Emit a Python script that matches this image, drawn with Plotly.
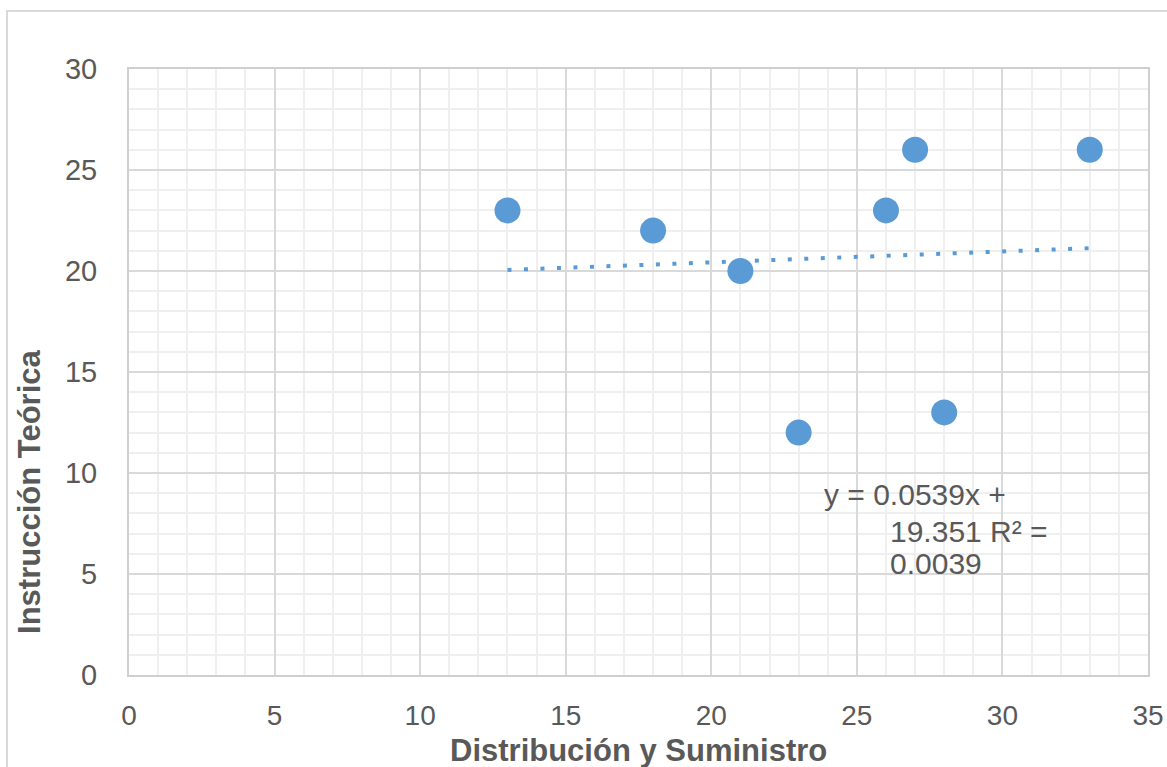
import plotly.graph_objects as go

# Datos
distribucion = [13, 18, 21, 23, 26, 27, 28, 33]
instruccion = [23, 22, 20, 12, 23, 26, 13, 26]

# Línea de tendencia (ecuación mostrada en el gráfico)
pendiente = 0.0539
intercepto = 19.351
r2 = 0.0039

x_tend = [min(distribucion), max(distribucion)]
y_tend = [pendiente * x + intercepto for x in x_tend]

color_azul = '#5B9BD5'
color_texto = '#595959'
fuente = 'Liberation Sans, Arial, sans-serif'

fig = go.Figure()

fig.add_trace(go.Scatter(
    x=x_tend, y=y_tend,
    mode='lines',
    line={'color': color_azul, 'width': 4, 'dash': '4px,12.5px'},
    hoverinfo='skip',
))

fig.add_trace(go.Scatter(
    x=distribucion, y=instruccion,
    mode='markers',
    marker={'color': color_azul, 'size': 26, 'line': {'width': 0}},
))

fig.update_layout(
    width=1167, height=767,
    plot_bgcolor='white',
    paper_bgcolor='white',
    margin={'l': 129, 'r': 19, 't': 69, 'b': 92},
    showlegend=False,
    font={'family': fuente, 'color': color_texto, 'size': 28},

    xaxis={
        'range': [0, 35],
        'dtick': 5,
        'automargin': False,
        'showgrid': True,
        'gridcolor': '#d9d9d9',
        'gridwidth': 1.5,
        'minor': {'dtick': 1, 'showgrid': True, 'gridcolor': '#efefef', 'gridwidth': 1.5},
        'showline': True, 'linecolor': '#cfcfcf', 'linewidth': 2, 'mirror': True,
        'zeroline': False,
        'ticks': 'outside', 'ticklen': 14, 'tickcolor': 'rgba(0,0,0,0)',
        'tickfont': {'size': 28, 'color': color_texto},
    },
    yaxis={
        'range': [0, 30],
        'dtick': 5,
        'automargin': False,
        'showgrid': True,
        'gridcolor': '#d9d9d9',
        'gridwidth': 1.5,
        'minor': {'dtick': 1, 'showgrid': True, 'gridcolor': '#efefef', 'gridwidth': 1.5},
        'showline': True, 'linecolor': '#cfcfcf', 'linewidth': 2, 'mirror': True,
        'zeroline': False,
        'ticks': 'outside', 'ticklen': 24, 'tickcolor': 'rgba(0,0,0,0)',
        'tickfont': {'size': 29, 'color': color_texto},
    },
)

# Títulos de los ejes
fig.add_annotation(
    text='<b>Distribución y Suministro</b>',
    xref='paper', yref='paper', x=0.5, y=-0.124,
    xanchor='center', yanchor='middle', showarrow=False,
    font={'size': 31, 'color': color_texto},
)
fig.add_annotation(
    text='<b>Instrucción Teórica</b>',
    xref='paper', yref='paper', x=-0.0972, y=0.302,
    xanchor='center', yanchor='middle',
    textangle=-90, showarrow=False,
    font={'size': 31, 'color': color_texto},
)

# Ecuación de la tendencia
lineas_ecuacion = [
    (f'y = {pendiente}x +', 23.8, 8.96),
    (f'{intercepto} R² =', 26.07, 7.08),
    (f'{r2}', 26.07, 5.50),
]
for texto, xpos, ypos in lineas_ecuacion:
    fig.add_annotation(
        text=texto, x=xpos, y=ypos, xanchor='left', yanchor='middle',
        showarrow=False, font={'size': 30, 'color': color_texto},
    )

# Borde exterior del gráfico
fig.add_shape(
    type='rect', xref='paper', yref='paper',
    x0=-0.1197, x1=1.03, y0=-0.2, y1=1.0957,
    line={'color': '#d9d9d9', 'width': 2},
    layer='below',
)

# Quitar el margen por defecto del body para que la figura ocupe la ventana exacta
fig.write_html(
    'out.html',
    config={'displayModeBar': False},
    post_script="document.body.style.margin='0';document.body.style.overflow='hidden';",
)
